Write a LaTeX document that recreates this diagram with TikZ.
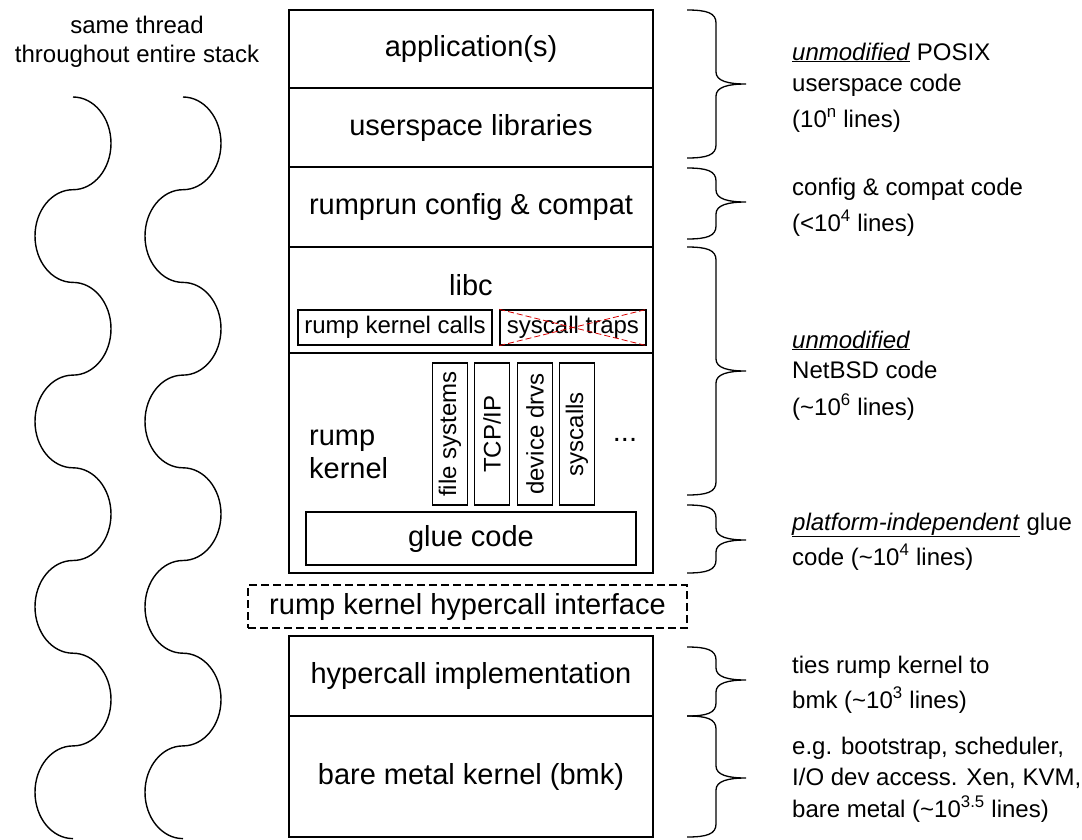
\documentclass[tikz,border=0pt]{standalone}
\usepackage{fontspec}
\setmainfont{Liberation Sans}
\newcommand\fbig{\fontsize{29}{33}\selectfont}
\newcommand\fsml{\fontsize{24}{29}\selectfont}
\newcommand\ulit[1]{\underline{\textit{#1}}}
\newcommand\rbr[3]{%
  \draw[brc] (687,#1) .. controls (707,#1) and (716,{#1+3}) .. (716,{#1+13})
    -- (716,{#2-12}) .. controls (716,{#2-3}) and (728,#2) .. (746,#2)
    .. controls (728,#2) and (716,{#2+3}) .. (716,{#2+12})
    -- (716,{#3-13}) .. controls (716,{#3-3}) and (707,#3) .. (687,#3);}
\begin{document}
\begin{tikzpicture}[x=1pt,y=-1pt,
  box/.style={draw, line width=1.3pt, inner sep=0pt, minimum width=364pt, font=\fbig},
  ibox/.style={draw, line width=1.3pt, inner sep=0pt, font=\fsml},
  vbox/.style={draw, line width=1.3pt, inner sep=0pt, rotate=90, minimum width=142pt, minimum height=35pt, font=\fsml},
  dbox/.style={draw, line width=1.2pt, dash pattern=on 8pt off 4pt, inner sep=0pt, font=\fbig},
  redx/.style={draw=red!85!black, line width=0.8pt, dash pattern=on 6pt off 3pt},
  wave/.style={draw, line width=1.4pt},
  brc/.style={draw, line width=1.3pt},
  rt/.style={anchor=base west, font=\fsml, inner sep=0pt},
  lt/.style={anchor=base, font=\fsml, inner sep=0pt}]
\fill[white] (0,0) rectangle (1082,839);
\useasboundingbox (0,0) rectangle (1082,839);

% top-left label
\node[lt] (t1) at (137,33) {same thread};
\node[lt] (t2) at (137,62) {throughout entire stack};

% waves
\foreach \wx in {73,183}{
  \draw[wave] (\wx,97)
    \foreach \k in {1,...,4}{
      arc[start angle=-90, end angle=90, x radius=38, y radius=46.35]
      arc[start angle=-90, end angle=-270, x radius=38, y radius=46.35]
    };
}

% main stack
\node[box, minimum height=78pt] (app) at (471,49) {application(s)};
\node[box, minimum height=79pt] (ulib) at (471,127.5) {userspace libraries};
\node[box, minimum height=80pt] (rr) at (471,207) {rumprun config \& compat};
\node[box, minimum height=106pt] (libc) at (471,300) {};
\node[font=\fbig, anchor=base, inner sep=0pt] (libcl) at (471,295) {libc};
\node[ibox, minimum width=194pt, minimum height=35pt] (rkc) at (395,327.5) {rump kernel calls};
\node[ibox, minimum width=146pt, minimum height=35pt] (sct) at (573,327.5) {syscall traps};
\draw[redx] (sct.north west) -- (sct.south east);
\draw[redx] (sct.south west) -- (sct.north east);

\node[box, minimum height=220pt] (rk) at (471,463) {};
\node[font=\fbig, anchor=base west, inner sep=0pt] (rk1) at (309,445) {rump};
\node[font=\fbig, anchor=base west, inner sep=0pt] (rk2) at (309,478) {kernel};
\node[vbox] (fs) at (450,434) {file systems};
\node[vbox] (tcp) at (492,434) {TCP/IP};
\node[vbox] (dev) at (535,434) {device drvs};
\node[vbox] (sys) at (577,434) {syscalls};
\node[font=\fbig, anchor=base, inner sep=0pt] (dots) at (625,441) {...};
\node[ibox, font=\fbig, minimum width=330pt, minimum height=53pt] (glue) at (471,538.5) {glue code};

\node[dbox, minimum width=439pt, minimum height=43pt] (hci) at (467.5,606.5) {rump kernel hypercall interface};

\node[box, minimum height=80pt] (hyp) at (471,676) {hypercall implementation};
\node[box, minimum height=121pt] (bmk) at (471,776.5) {bare metal kernel (bmk)};

% braces
\rbr{10}{84}{158}
\rbr{168}{202}{239}
\rbr{247}{371}{495}
\rbr{505}{540}{573}
\rbr{647}{680}{716}
\rbr{716}{778}{837}

% right-hand texts
\node[rt] (a1) at (792,60) {\ulit{unmodified} POSIX};
\node[rt] (a2) at (792,91) {userspace code};
\node[rt] (a3) at (792,127) {(10\textsuperscript{n} lines)};
\node[rt] (b1) at (792,195) {config \& compat code};
\node[rt] (b2) at (792,231) {(<10\textsuperscript{4} lines)};
\node[rt] (c1) at (792,348) {\ulit{unmodified}};
\node[rt] (c2) at (792,378) {NetBSD code};
\node[rt] (c3) at (792,415) {(\textasciitilde 10\textsuperscript{6} lines)};
\node[rt] (d1) at (792,530) {\ulit{platform-independent} glue};
\node[rt] (d2) at (792,565) {code (\textasciitilde 10\textsuperscript{4} lines)};
\node[rt] (e1) at (792,673) {ties rump kernel to};
\node[rt] (e2) at (792,708) {bmk (\textasciitilde 10\textsuperscript{3} lines)};
\node[rt] (f1) at (792,754) {e.g. bootstrap, scheduler,};
\node[rt] (f2) at (792,785) {I/O dev access. Xen, KVM,};
\node[rt] (f3) at (792,817) {bare metal (\textasciitilde 10\textsuperscript{3.5} lines)};
\end{tikzpicture}
\end{document}
